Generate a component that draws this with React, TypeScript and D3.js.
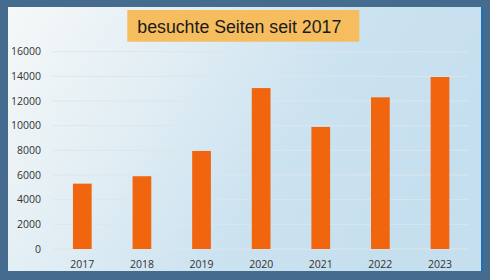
import React from "react";
import * as d3 from "d3";

const years = ["2017", "2018", "2019", "2020", "2021", "2022", "2023"];
const visits = [5300, 5900, 7950, 13050, 9900, 12300, 13950];
const yTicks = [0, 2000, 4000, 6000, 8000, 10000, 12000, 14000, 16000];
const title = "besuchte Seiten seit 2017";

export default function App() {
  const W = 490, H = 280;
  const x = d3.scaleBand<string>().domain(years).range([52.5, 469.8]).paddingInner(0.686).paddingOuter(0.343);
  const y = d3.scaleLinear().domain([0, 16000]).range([249, 51.7]);
  return (
    <svg width={W} height={H} style={{ position: "absolute", left: 0, top: 0 }}>
      <defs>
        <linearGradient id="bg" x1="0" y1="0" x2="1" y2="0.35">
          <stop offset="0" stopColor="#f6f8f8" />
          <stop offset="0.35" stopColor="#e2eef4" />
          <stop offset="0.7" stopColor="#cbe2f0" />
          <stop offset="1" stopColor="#c6dfee" />
        </linearGradient>
      </defs>
      <rect x={0} y={0} width={W} height={H} fill="#456b8e" />
      <rect x={8} y={7} width={473.5} height={264} fill="url(#bg)" />
      <rect x={481} y={7} width={2} height={264} fill="#1f6fb5" />
      <rect x={127.3} y={10} width={232} height={31.7} fill="#f6bd5f" />
      <text x={137.3} y={32.5} fontFamily="Liberation Sans, Arial, sans-serif" fontSize={17.6} fill="#1a1a1a" textLength={204} lengthAdjust="spacingAndGlyphs">{title}</text>
      {yTicks.map((t) => (
        <g key={t}>
          <line x1={53} x2={468} y1={y(t)} y2={y(t)} stroke="#dce6ec" strokeWidth={1} />
          <text x={41} y={y(t)} dy="0.35em" textAnchor="end" fontFamily="Open Sans, Noto Sans, sans-serif" fontSize={10.5} fill="#333">{t}</text>
        </g>
      ))}
      {years.map((yr, i) => (
        <rect key={yr} x={x(yr)} y={y(visits[i])} width={x.bandwidth()} height={y(0) - y(visits[i])} fill="#f0650e" />
      ))}
      {years.map((yr) => (
        <text key={yr} x={(x(yr) as number) + x.bandwidth() / 2} y={267.5} textAnchor="middle" fontFamily="Open Sans, Noto Sans, sans-serif" fontSize={10.5} fill="#333">{yr}</text>
      ))}
    </svg>
  );
}
